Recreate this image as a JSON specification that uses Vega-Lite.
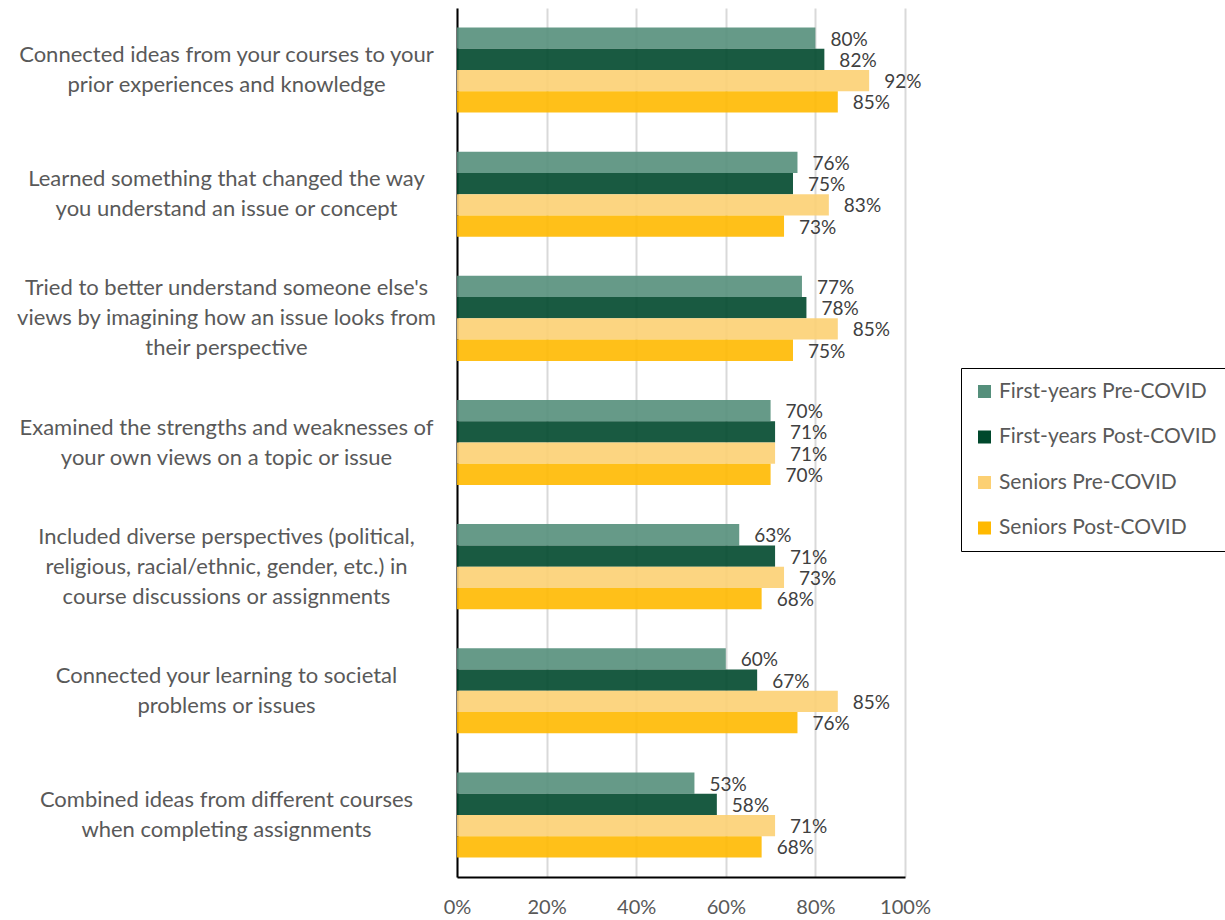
{
  "$schema": "https://vega.github.io/schema/vega-lite/v6.json",
  "autosize": "none",
  "padding": {"left": 457, "top": 8, "right": 320, "bottom": 43},
  "width": 448,
  "height": 869,
  "background": "white",
  "config": {
    "view": {"stroke": null},
    "font": "Lato",
    "axis": {"labelFont": "Lato", "labelColor": "#595959"}
  },
  "data": {
    "values": [
      {"item": "Connected ideas from your courses to your|prior experiences and knowledge", "series": "First-years Pre-COVID", "value": 0.80},
      {"item": "Connected ideas from your courses to your|prior experiences and knowledge", "series": "First-years Post-COVID", "value": 0.82},
      {"item": "Connected ideas from your courses to your|prior experiences and knowledge", "series": "Seniors Pre-COVID", "value": 0.92},
      {"item": "Connected ideas from your courses to your|prior experiences and knowledge", "series": "Seniors Post-COVID", "value": 0.85},
      {"item": "Learned something that changed the way|you understand an issue or concept", "series": "First-years Pre-COVID", "value": 0.76},
      {"item": "Learned something that changed the way|you understand an issue or concept", "series": "First-years Post-COVID", "value": 0.75},
      {"item": "Learned something that changed the way|you understand an issue or concept", "series": "Seniors Pre-COVID", "value": 0.83},
      {"item": "Learned something that changed the way|you understand an issue or concept", "series": "Seniors Post-COVID", "value": 0.73},
      {"item": "Tried to better understand someone else's|views by imagining how an issue looks from|their perspective", "series": "First-years Pre-COVID", "value": 0.77},
      {"item": "Tried to better understand someone else's|views by imagining how an issue looks from|their perspective", "series": "First-years Post-COVID", "value": 0.78},
      {"item": "Tried to better understand someone else's|views by imagining how an issue looks from|their perspective", "series": "Seniors Pre-COVID", "value": 0.85},
      {"item": "Tried to better understand someone else's|views by imagining how an issue looks from|their perspective", "series": "Seniors Post-COVID", "value": 0.75},
      {"item": "Examined the strengths and weaknesses of|your own views on a topic or issue", "series": "First-years Pre-COVID", "value": 0.70},
      {"item": "Examined the strengths and weaknesses of|your own views on a topic or issue", "series": "First-years Post-COVID", "value": 0.71},
      {"item": "Examined the strengths and weaknesses of|your own views on a topic or issue", "series": "Seniors Pre-COVID", "value": 0.71},
      {"item": "Examined the strengths and weaknesses of|your own views on a topic or issue", "series": "Seniors Post-COVID", "value": 0.70},
      {"item": "Included diverse perspectives (political,|religious, racial/ethnic, gender, etc.) in|course discussions or assignments", "series": "First-years Pre-COVID", "value": 0.63},
      {"item": "Included diverse perspectives (political,|religious, racial/ethnic, gender, etc.) in|course discussions or assignments", "series": "First-years Post-COVID", "value": 0.71},
      {"item": "Included diverse perspectives (political,|religious, racial/ethnic, gender, etc.) in|course discussions or assignments", "series": "Seniors Pre-COVID", "value": 0.73},
      {"item": "Included diverse perspectives (political,|religious, racial/ethnic, gender, etc.) in|course discussions or assignments", "series": "Seniors Post-COVID", "value": 0.68},
      {"item": "Connected your learning to societal|problems or issues", "series": "First-years Pre-COVID", "value": 0.60},
      {"item": "Connected your learning to societal|problems or issues", "series": "First-years Post-COVID", "value": 0.67},
      {"item": "Connected your learning to societal|problems or issues", "series": "Seniors Pre-COVID", "value": 0.85},
      {"item": "Connected your learning to societal|problems or issues", "series": "Seniors Post-COVID", "value": 0.76},
      {"item": "Combined ideas from different courses|when completing assignments", "series": "First-years Pre-COVID", "value": 0.53},
      {"item": "Combined ideas from different courses|when completing assignments", "series": "First-years Post-COVID", "value": 0.58},
      {"item": "Combined ideas from different courses|when completing assignments", "series": "Seniors Pre-COVID", "value": 0.71},
      {"item": "Combined ideas from different courses|when completing assignments", "series": "Seniors Post-COVID", "value": 0.68}
    ]
  },
  "encoding": {
    "y": {
      "field": "item",
      "type": "nominal",
      "sort": null,
      "title": null,
      "scale": {"paddingInner": 0.315, "paddingOuter": 0.1575},
      "axis": {
        "labelExpr": "split(datum.label, '|')",
        "labelAlign": "center",
        "labelBaseline": "middle",
        "labelPadding": 231,
        "labelLimit": 500,
        "labelFontSize": 22,
        "labelLineHeight": 30,
        "labelOffset": {"condition": {"test": "length(split(datum.value, '|')) == 3", "value": -30}, "value": -15},
        "ticks": false,
        "domainColor": "#000000",
        "domainWidth": 2,
        "grid": false
      }
    },
    "yOffset": {
      "field": "series",
      "type": "nominal",
      "sort": ["First-years Pre-COVID", "First-years Post-COVID", "Seniors Pre-COVID", "Seniors Post-COVID"],
      "scale": {"paddingInner": 0, "paddingOuter": 0}
    },
    "x": {
      "field": "value",
      "type": "quantitative",
      "title": null,
      "scale": {"domain": [0, 1], "nice": false},
      "axis": {
        "values": [0, 0.2, 0.4, 0.6, 0.8, 1],
        "format": ".0%",
        "labelFontSize": 20,
        "labelPadding": 20,
        "ticks": false,
        "domainColor": "#000000",
        "domainWidth": 2,
        "grid": true,
        "gridColor": "#d9d9d9",
        "gridWidth": 2,
        "labelFlush": false
      }
    }
  },
  "layer": [
    {
      "mark": {"type": "bar", "opacity": 0.9},
      "encoding": {
        "color": {
          "field": "series",
          "type": "nominal",
          "scale": {
            "domain": ["First-years Pre-COVID", "First-years Post-COVID", "Seniors Pre-COVID", "Seniors Post-COVID"],
            "range": ["#558f7b", "#00482c", "#fcd073", "#ffb900"]
          },
          "legend": {
            "orient": "none",
            "legendX": 504,
            "legendY": 360,
            "title": null,
            "strokeColor": "#000000",
            "padding": 13,
            "symbolType": "square",
            "symbolSize": 169,
            "symbolStrokeWidth": 0,
            "symbolOpacity": 1,
            "labelFontSize": 21,
            "labelColor": "#595959",
            "labelFont": "Lato",
            "labelOffset": 4,
            "rowPadding": 23.5,
            "labelLimit": 400
          }
        }
      }
    },
    {
      "mark": {"type": "text", "align": "left", "baseline": "middle", "dx": 15, "dy": 1.5, "fontSize": 19, "color": "#404040", "font": "Lato"},
      "encoding": {
        "text": {"field": "value", "type": "quantitative", "format": ".0%"}
      }
    }
  ]
}
